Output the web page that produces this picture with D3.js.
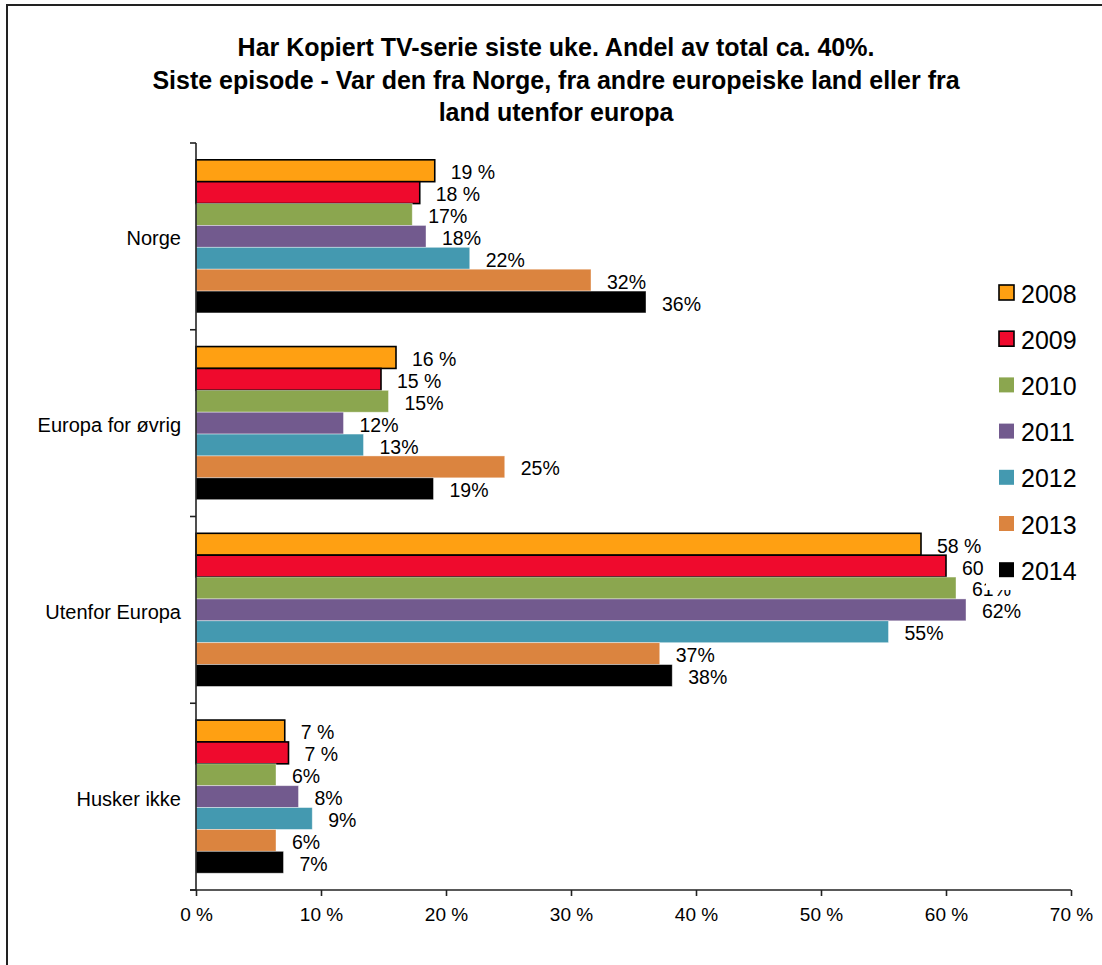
<!DOCTYPE html>
<html>
<head>
<meta charset="utf-8">
<script src="https://cdn.jsdelivr.net/npm/d3@7"></script>
<style>
  html, body { margin: 0; padding: 0; background: #fff; }
  svg { display: block; font-family: "Liberation Sans", Arial, sans-serif; }
</style>
</head>
<body>
<svg id="chart" width="1102" height="965"></svg>
<script>
// ---- data ----
const titleLines = [
  "Har Kopiert TV-serie  siste  uke. Andel av total  ca. 40%.",
  "Siste episode - Var den fra Norge, fra andre europeiske  land eller fra",
  "land utenfor  europa"
];
const categories = ["Norge", "Europa for øvrig", "Utenfor Europa", "Husker ikke"];
const years = ["2008", "2009", "2010", "2011", "2012", "2013", "2014"];
const values2008 = [19.1, 16.0, 58.0, 7.1];
const values2009 = [17.9, 14.8, 60.0, 7.4];
const values2010 = [17.3, 15.4, 60.8, 6.4];
const values2011 = [18.4, 11.8, 61.6, 8.2];
const values2012 = [21.9, 13.4, 55.4, 9.3];
const values2013 = [31.6, 24.7, 37.1, 6.4];
const values2014 = [36.0, 19.0, 38.1, 7.0];
const xTicks = [0, 10, 20, 30, 40, 50, 60, 70];

const seriesValues = [values2008, values2009, values2010, values2011, values2012, values2013, values2014];

// ---- styles ----
const colors = ["#FFA012", "#EF0A2D", "#8BA64F", "#725A8E", "#4499B0", "#DB843F", "#000000"];
const outlined = [true, true, false, false, false, false, false];
const labelSuffix = [" %", " %", "%", "%", "%", "%", "%"];

const svg = d3.select("#chart");

// outer frame
svg.append("rect")
  .attr("x", 7).attr("y", 5).attr("width", 1200).attr("height", 1200)
  .attr("fill", "none").attr("stroke", "#222").attr("stroke-width", 2);

// title
const title = svg.append("text")
  .attr("text-anchor", "middle")
  .attr("font-weight", "bold")
  .attr("font-size", 25)
  .attr("fill", "#000");
titleLines.forEach((t, i) => {
  title.append("tspan").attr("x", 556).attr("y", 56 + i * 32.5).text(t);
});

// scales
const plot = { left: 196, right: 1071, top: 143, bottom: 890 };
const x = d3.scaleLinear().domain([0, 70]).range([plot.left, plot.right]);
const y = d3.scaleBand().domain(categories).range([plot.top, plot.bottom])
  .paddingInner(0.18).paddingOuter(0.09);
const yInner = d3.scaleBand().domain(years).range([0, y.bandwidth()]).padding(0);

// bars
const data = [];
categories.forEach((c, ci) => {
  years.forEach((yr, si) => {
    data.push({ cat: c, year: yr, si: si, v: seriesValues[si][ci] });
  });
});

const gBars = svg.append("g");
gBars.selectAll("rect").data(data).enter().append("rect")
  .attr("x", x(0))
  .attr("y", d => y(d.cat) + yInner(d.year))
  .attr("width", d => x(d.v) - x(0))
  .attr("height", yInner.bandwidth())
  .attr("fill", d => colors[d.si])
  .attr("stroke", d => outlined[d.si] ? "#000" : "rgba(255,255,255,0.5)")
  .attr("stroke-width", d => outlined[d.si] ? 1.6 : 0.8);

// data labels
svg.append("g").selectAll("text").data(data).enter().append("text")
  .attr("x", d => x(d.v) + 16)
  .attr("y", d => y(d.cat) + yInner(d.year) + yInner.bandwidth() / 2 + 1.5)
  .attr("dominant-baseline", "central")
  .attr("font-size", 19.5)
  .attr("fill", "#000")
  .text(d => Math.round(d.v) + labelSuffix[d.si]);

// y axis
const step = y.step();
const yAxis = svg.append("g");
yAxis.append("line")
  .attr("x1", plot.left).attr("x2", plot.left)
  .attr("y1", plot.top).attr("y2", plot.bottom)
  .attr("stroke", "#222").attr("stroke-width", 1.6);
d3.range(categories.length + 1).forEach(i => {
  const yy = plot.top + i * (plot.bottom - plot.top) / categories.length;
  yAxis.append("line")
    .attr("x1", plot.left - 6).attr("x2", plot.left)
    .attr("y1", yy).attr("y2", yy)
    .attr("stroke", "#222").attr("stroke-width", 1.6);
});
yAxis.selectAll("text.cat").data(categories).enter().append("text")
  .attr("class", "cat")
  .attr("x", 181)
  .attr("y", d => y(d) + y.bandwidth() / 2 + 2)
  .attr("text-anchor", "end")
  .attr("dominant-baseline", "central")
  .attr("font-size", 20)
  .attr("fill", "#000")
  .text(d => d);

// x axis
const xAxis = svg.append("g").attr("transform", `translate(0,${plot.bottom})`)
  .call(d3.axisBottom(x).tickValues(xTicks).tickSize(6).tickPadding(12)
    .tickFormat(d => d + " %"));
xAxis.select(".domain")
  .attr("d", `M${plot.left - 6},0H${plot.right}`)
  .attr("stroke", "#222").attr("stroke-width", 1.6);
xAxis.selectAll(".tick line").attr("stroke", "#222").attr("stroke-width", 1.6);
xAxis.selectAll(".tick text")
  .attr("font-family", "\"Liberation Sans\", Arial, sans-serif")
  .attr("font-size", 19).attr("fill", "#000");

// legend (white background covers overlapping labels)
const legend = svg.append("g");
legend.append("rect")
  .attr("x", 986).attr("y", 268).attr("width", 110).attr("height", 322)
  .attr("fill", "#fff");
years.forEach((yr, i) => {
  const cy = 292.5 + i * 46.2;
  legend.append("rect")
    .attr("x", 999).attr("y", cy - 7.5).attr("width", 15).attr("height", 15)
    .attr("fill", colors[i])
    .attr("stroke", outlined[i] ? "#000" : "none")
    .attr("stroke-width", outlined[i] ? 1.6 : 0);
  legend.append("text")
    .attr("x", 1021).attr("y", cy + 1)
    .attr("dominant-baseline", "central")
    .attr("font-size", 25)
    .attr("fill", "#000")
    .text(yr);
});
</script>
</body>
</html>
